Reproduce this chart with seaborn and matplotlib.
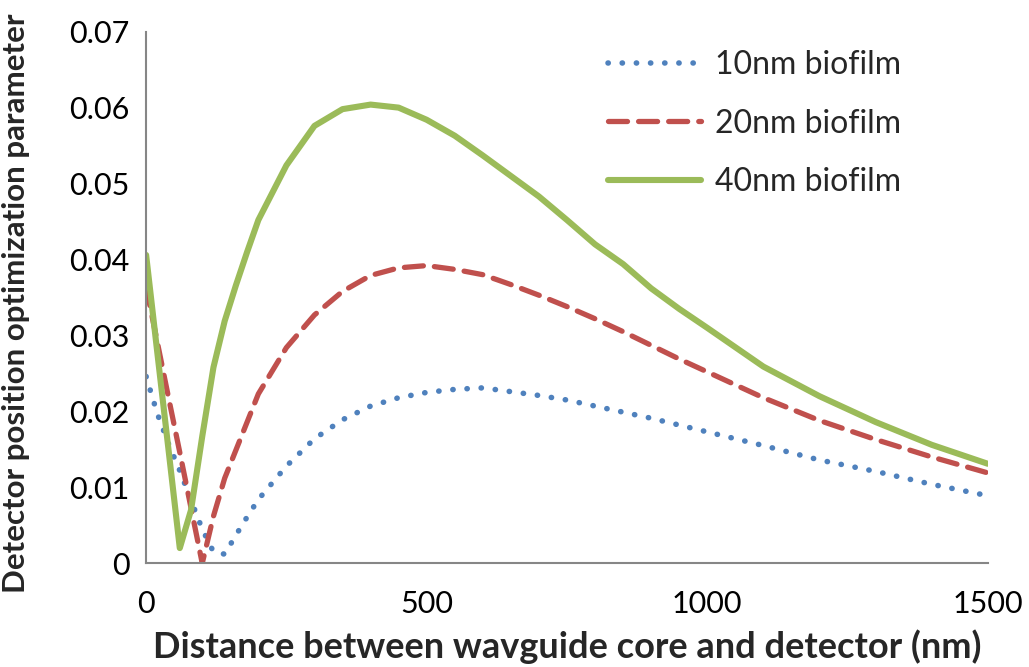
import numpy as np
import pandas as pd
import matplotlib
matplotlib.use("Agg")
import matplotlib.pyplot as plt
import seaborn as sns

# ---- data ----
distance_nm = [0, 20, 40, 60, 80, 100, 120, 140, 160, 180, 200, 250, 300, 350, 400,
               450, 500, 550, 600, 650, 700, 750, 800, 850, 900, 950, 1000,
               1100, 1200, 1300, 1400, 1500]
biofilm_10nm = [0.0246, 0.0197, 0.0157, 0.0122, 0.0083, 0.0045, 0.0015, 0.0012, 0.0037,
                0.0061, 0.0084, 0.0128, 0.0164, 0.0189, 0.0207, 0.0218, 0.0225, 0.0229,
                0.0231, 0.0226, 0.0221, 0.0215, 0.0207, 0.0199, 0.0191, 0.0182, 0.0173,
                0.0155, 0.0136, 0.0121, 0.0104, 0.0089]
biofilm_20nm = [0.0364, 0.0291, 0.0218, 0.0146, 0.0073, 0.0000, 0.0062, 0.0112, 0.0149,
                0.0186, 0.0223, 0.0284, 0.0327, 0.0358, 0.0379, 0.0389, 0.0392, 0.0387,
                0.0380, 0.0367, 0.0353, 0.0338, 0.0322, 0.0305, 0.0287, 0.0269, 0.0252,
                0.0218, 0.0188, 0.0163, 0.0140, 0.0119]
biofilm_40nm = [0.0406, 0.0277, 0.0149, 0.0020, 0.0070, 0.0167, 0.0258, 0.0319, 0.0366,
                0.0410, 0.0452, 0.0524, 0.0576, 0.0598, 0.0604, 0.0600, 0.0584, 0.0563,
                0.0537, 0.0510, 0.0483, 0.0452, 0.0420, 0.0394, 0.0362, 0.0335, 0.0310,
                0.0259, 0.0220, 0.0186, 0.0156, 0.0131]
series_names = ["10nm biofilm", "20nm biofilm", "40nm biofilm"]
x_ticks = [0, 500, 1000, 1500]
y_ticks = [0, 0.01, 0.02, 0.03, 0.04, 0.05, 0.06, 0.07]
y_ticklabels = ["0", "0.01", "0.02", "0.03", "0.04", "0.05", "0.06", "0.07"]

df = pd.DataFrame({
    "x": distance_nm * 3,
    "y": biofilm_10nm + biofilm_20nm + biofilm_40nm,
    "series": [series_names[0]] * len(distance_nm)
              + [series_names[1]] * len(distance_nm)
              + [series_names[2]] * len(distance_nm),
})

sns.set_style("white")
plt.rcParams["font.family"] = ["Lato", "DejaVu Sans"]

fig = plt.figure(figsize=(10.29, 6.67), dpi=100)
ax = fig.add_axes([0.142, 0.1555, 0.818, 0.797])

palette = {series_names[0]: "#4F81BD", series_names[1]: "#C0504D", series_names[2]: "#9BBB59"}
sns.lineplot(data=df, x="x", y="y", hue="series", palette=palette, ax=ax,
             estimator=None, sort=False, legend=False)

lines = ax.get_lines()
styles = [
    dict(lw=4.0, ls=(0, (0.05, 2.5)), dash_capstyle="round"),
    dict(lw=3.8, ls=(0, (3.6, 2.1)), dash_capstyle="round"),
    dict(lw=4.4, ls="-", solid_capstyle="round"),
]
for ln, st in zip(lines, styles):
    ln.set_linewidth(st["lw"])
    ln.set_linestyle(st["ls"])
    if "dash_capstyle" in st:
        ln.set_dash_capstyle(st["dash_capstyle"])
    if "solid_capstyle" in st:
        ln.set_solid_capstyle(st["solid_capstyle"])
    ln.set_solid_joinstyle("round")
    ln.set_dash_joinstyle("round")

ax.set_xlim(0, 1500)
ax.set_ylim(0, 0.07)
ax.set_xticks(x_ticks)
ax.set_xticklabels([str(t) for t in x_ticks])
ax.set_yticks(y_ticks)
ax.set_yticklabels(y_ticklabels)

for s in ["top", "right"]:
    ax.spines[s].set_visible(False)
for s in ["left", "bottom"]:
    ax.spines[s].set_color("#868686")
    ax.spines[s].set_linewidth(1.5)
ax.tick_params(axis="both", which="major", direction="out", length=7, width=1.5,
               color="#868686", labelsize=22, labelcolor="black", pad=5)
ax.tick_params(axis="x", pad=12)

ax.set_xlabel("Distance between wavguide core and detector (nm)", fontsize=26,
              fontweight="bold")
ax.xaxis.set_label_coords(0.5, -0.125)
ax.set_ylabel("Detector position optimization parameter", fontsize=22.5,
              fontweight="bold")
ax.yaxis.set_label_coords(-0.138, 0.49)

leg = ax.legend(lines, series_names, loc="upper left", bbox_to_anchor=(0.515, 1.02),
                frameon=False, fontsize=23, handlelength=2.9, handletextpad=0.45,
                labelspacing=0.9)

fig.savefig("out.png", dpi=100)
